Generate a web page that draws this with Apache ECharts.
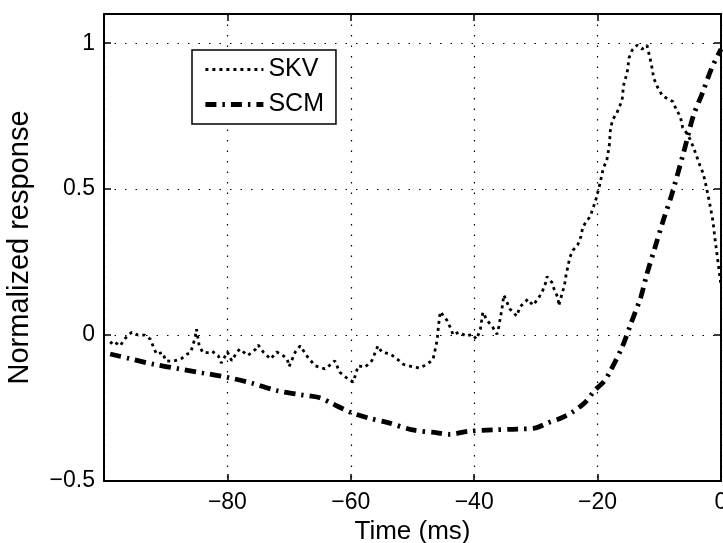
<!DOCTYPE html>
<html>
<head>
<meta charset="utf-8">
<script src="https://cdn.jsdelivr.net/npm/echarts@6/dist/echarts.min.js"></script>
<style>
  html, body { margin: 0; padding: 0; background: #fff; }
  #chart { width: 723px; height: 543px; }
</style>
</head>
<body>
<div id="chart"></div>
<script>
// Time axis (ms) and normalized responses of the two units
const skvTime = [-99, -98.5, -97.4, -96.5, -95.5, -94.5, -93.4, -92.5, -92, -91.5, -90.5, -90, -89, -88, -87.4,
  -86.5, -86, -85.6, -85.2, -85, -84.6, -84, -83, -82.5, -81.5, -81, -80, -79.3, -78.5, -78, -76.7, -75.5, -75,
  -74.2, -73, -72, -71, -70.3, -70, -69, -68.2, -67, -65.8, -64.2, -63.2, -62.6, -61.8, -60.5, -59.6, -58.8,
  -57.7, -56.6, -55.6, -55, -53.6, -52.5, -51.5, -50.1, -48.8, -47.7, -46.7, -46.4, -46, -45.8, -45.5, -44.4,
  -43.9, -43.4, -42.5, -41.2, -40.4, -39.6, -39, -38.6, -37.9, -37.1, -36.3, -36, -35.8, -35.5, -35.2, -34.2,
  -33.1, -32.6, -31.3, -30.5, -29.7, -29, -28.5, -28.2, -27.4, -27, -26.4, -26.3, -25.6, -25.3, -25.1, -24.8,
  -24.5, -24, -23.2, -22.7, -22.4, -21.8, -21.2, -20.7, -20.2, -19.6, -19.1, -18.5, -18.1, -17.9, -17.5, -16.9,
  -16.4, -16, -15.8, -15.2, -14.9, -14.4, -13.6, -12.8, -12, -11.7, -11.3, -10.9, -10.3, -9.5, -8.3, -7.8,
  -7.2, -6.6, -6.2, -5.5, -5, -4.5, -3.9, -3.4, -2.9, -2.3, -1.8, -1.3, -1, -0.5, 0];
const skvValue = [-0.03, -0.02, -0.037, -0.01, 0.01, 0.0, 0.0, -0.014, -0.04, -0.065, -0.06, -0.088, -0.09, -0.085, -0.08,
  -0.065, -0.06, -0.037, -0.004, 0.02, -0.033, -0.06, -0.06, -0.055, -0.07, -0.096, -0.058, -0.088, -0.06, -0.048, -0.07, -0.05, -0.034,
  -0.058, -0.082, -0.058, -0.07, -0.082, -0.108, -0.058, -0.037, -0.075, -0.105, -0.116, -0.1, -0.088, -0.127, -0.15, -0.161, -0.105,
  -0.11, -0.088, -0.037, -0.058, -0.065, -0.082, -0.1, -0.108, -0.113, -0.1, -0.085, -0.058, -0.015, 0.03, 0.08, 0.05,
  0.027, 0.0, 0.01, -0.004, 0.003, -0.014, 0.02, 0.078, 0.05, 0.03, 0.003, 0.03, 0.055, 0.09, 0.137, 0.089,
  0.065, 0.096, 0.123, 0.102, 0.123, 0.147, 0.174, 0.2, 0.18, 0.154, 0.127, 0.1, 0.154, 0.18, 0.208, 0.236,
  0.266, 0.29, 0.31, 0.338, 0.37, 0.39, 0.406, 0.437, 0.47, 0.52, 0.57, 0.6, 0.65, 0.71, 0.74, 0.76,
  0.785, 0.81, 0.855, 0.9, 0.95, 0.976, 0.993, 0.98, 0.993, 0.966, 0.93, 0.88, 0.85, 0.82, 0.805, 0.8,
  0.77, 0.75, 0.71, 0.69, 0.67, 0.645, 0.61, 0.58, 0.555, 0.5, 0.447, 0.39, 0.334, 0.253, 0.17];

const scmTime = [-99, -96, -92, -88, -84, -80, -76, -72, -68, -65, -63, -60, -57, -54, -50, -46, -44, -41, -37,
  -33, -30, -28, -26, -24, -22, -20.5, -19, -18, -16, -14.5, -13, -12, -10.7, -9.4, -8, -6, -4.5, -3, -1.5, 0];
const scmValue = [-0.065, -0.08, -0.1, -0.115, -0.13, -0.145, -0.165, -0.19, -0.205, -0.215, -0.235, -0.265, -0.285,
  -0.3, -0.325, -0.335, -0.34, -0.33, -0.325, -0.322, -0.318, -0.3, -0.285, -0.263, -0.23, -0.19, -0.16, -0.126,
  -0.04, 0.045, 0.13, 0.21, 0.3, 0.39, 0.48, 0.63, 0.75, 0.83, 0.915, 0.98];

const xTicks = [-100, -80, -60, -40, -20, 0];
const yTicks = [-0.5, 0, 0.5, 1];

const FONT = 'Liberation Sans, Arial, Helvetica, sans-serif';
const minus = s => String(s).replace('-', '\u2212');
const pairs = (xs, ys) => xs.map((x, i) => [x, ys[i]]);

const skvLine = { color: '#000', width: 2.8, type: [3, 4] };
const scmLine = { color: '#000', width: 4.8, type: [11, 6, 2.5, 6] };
const gridDots = { color: '#000', width: 1.2, type: [1.5, 9] };
const frameLine = { show: true, onZero: false, lineStyle: { color: '#000', width: 2 } };
const innerTicks = { show: true, inside: true, length: 7, lineStyle: { color: '#000', width: 1.5 } };

const chart = echarts.init(document.getElementById('chart'), null, { renderer: 'canvas' });
chart.setOption({
  animation: false,
  backgroundColor: '#fff',
  textStyle: { fontFamily: FONT, color: '#000' },
  grid: { left: 104, right: 2, top: 14, bottom: 62, show: false, outerBoundsMode: 'none', containLabel: false },
  legend: {
    left: 192, top: 50, orient: 'vertical',
    padding: [7, 12, 7, 11],
    itemWidth: 58, itemHeight: 14, itemGap: 10,
    borderColor: '#000', borderWidth: 1.5,
    backgroundColor: '#fff',
    itemStyle: { opacity: 0 },
    textStyle: { fontFamily: FONT, fontSize: 25, color: '#000' },
    data: [
      { name: 'SKV', lineStyle: skvLine },
      { name: 'SCM', lineStyle: scmLine }
    ]
  },
  xAxis: [{
    type: 'value', min: xTicks[0], max: xTicks[xTicks.length - 1], interval: 20,
    position: 'bottom',
    name: 'Time (ms)', nameLocation: 'middle', nameGap: 34,
    nameTextStyle: { fontFamily: FONT, fontSize: 26, color: '#000' },
    axisLine: frameLine, axisTick: innerTicks,
    axisLabel: { fontFamily: FONT, fontSize: 23, color: '#000', margin: 10,
      formatter: v => (xTicks.indexOf(v) > 0 ? minus(v) : '') },
    splitLine: { show: true, lineStyle: gridDots }
  }, {
    type: 'value', min: xTicks[0], max: xTicks[xTicks.length - 1], interval: 20,
    position: 'top',
    axisLine: frameLine, axisTick: innerTicks,
    axisLabel: { show: false }, splitLine: { show: false }
  }],
  yAxis: [{
    type: 'value', min: yTicks[0], max: 1.1, interval: 0.5,
    position: 'left',
    name: 'Normalized response', nameLocation: 'middle', nameGap: 70,
    nameTextStyle: { fontFamily: FONT, fontSize: 29, color: '#000' },
    axisLine: frameLine, axisTick: innerTicks,
    axisLabel: { fontFamily: FONT, fontSize: 23, color: '#000', margin: 9,
      formatter: v => (yTicks.some(t => Math.abs(t - v) < 1e-9) ? minus(v) : '') },
    splitLine: { show: true, lineStyle: gridDots }
  }, {
    type: 'value', min: yTicks[0], max: 1.1, interval: 0.5,
    position: 'right',
    axisLine: frameLine, axisTick: innerTicks,
    axisLabel: { show: false }, splitLine: { show: false }
  }],
  series: [{
    name: 'SKV', type: 'line', xAxisIndex: 0, yAxisIndex: 0,
    data: pairs(skvTime, skvValue),
    symbol: 'none', showSymbol: false,
    lineStyle: skvLine, itemStyle: { color: '#000' }
  }, {
    name: 'SCM', type: 'line', xAxisIndex: 0, yAxisIndex: 0,
    data: pairs(scmTime, scmValue),
    smooth: 0.3,
    symbol: 'none', showSymbol: false,
    lineStyle: scmLine, itemStyle: { color: '#000' }
  }]
});
</script>
</body>
</html>
